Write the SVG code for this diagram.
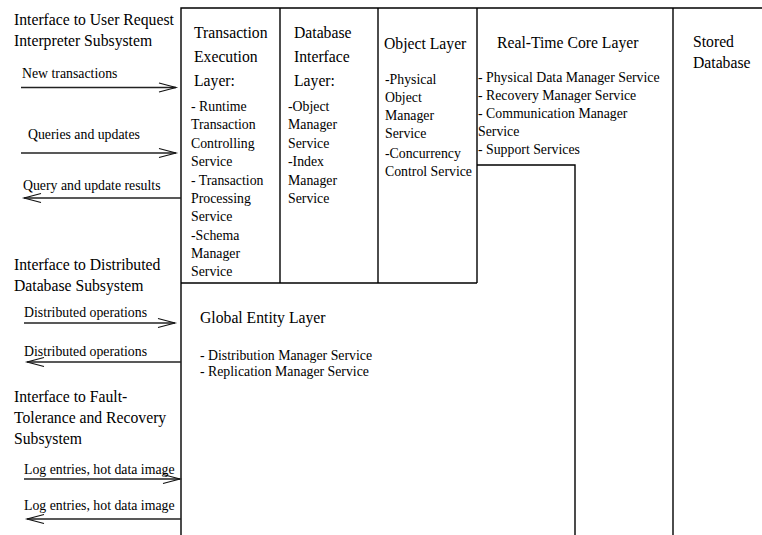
<svg xmlns="http://www.w3.org/2000/svg" width="762" height="535" viewBox="0 0 762 535">
  <style>
    text { font-family: "Liberation Serif", "Times New Roman", serif; fill: #000; }
    .h { font-size: 15.7px; }
    .s { font-size: 13.8px; }
    .frame { fill: none; stroke: #000; stroke-width: 1.4; }
    .arrow { fill: none; stroke: #222; stroke-width: 1.3; }
    .head { fill: none; stroke: #111; stroke-width: 1.1; }
  </style>
  <rect width="762" height="535" fill="#fff"/>

  <!-- Layer frame lines -->
  <g id="frame" class="frame">
    <polyline points="181,535 181,8 762,8"/>
    <line x1="280" y1="8" x2="280" y2="283"/>
    <line x1="378" y1="8" x2="378" y2="283"/>
    <line x1="477" y1="8" x2="477" y2="283"/>
    <line x1="181" y1="283" x2="477" y2="283"/>
    <polyline points="477,165 575,165 575,535"/>
    <line x1="673" y1="8" x2="673" y2="535"/>
  </g>

  <g id="transaction-execution-layer">
    <text class="h" x="194" y="38">Transaction</text>
    <text class="h" x="194" y="62">Execution</text>
    <text class="h" x="194" y="86">Layer:</text>
    <text class="s" x="191" y="111">- Runtime</text>
    <text class="s" x="191" y="129">Transaction</text>
    <text class="s" x="191" y="148">Controlling</text>
    <text class="s" x="191" y="166">Service</text>
    <text class="s" x="191" y="185">- Transaction</text>
    <text class="s" x="191" y="203">Processing</text>
    <text class="s" x="191" y="221">Service</text>
    <text class="s" x="191" y="240">-Schema</text>
    <text class="s" x="191" y="258">Manager</text>
    <text class="s" x="191" y="276">Service</text>
  </g>

  <g id="database-interface-layer">
    <text class="h" x="294" y="38">Database</text>
    <text class="h" x="294" y="62">Interface</text>
    <text class="h" x="294" y="86">Layer:</text>
    <text class="s" x="288" y="111">-Object</text>
    <text class="s" x="288" y="129">Manager</text>
    <text class="s" x="288" y="148">Service</text>
    <text class="s" x="288" y="166">-Index</text>
    <text class="s" x="288" y="185">Manager</text>
    <text class="s" x="288" y="203">Service</text>
  </g>

  <g id="object-layer">
    <text class="h" x="384" y="49">Object Layer</text>
    <text class="s" x="385" y="84">-Physical</text>
    <text class="s" x="385" y="102">Object</text>
    <text class="s" x="385" y="120">Manager</text>
    <text class="s" x="385" y="138">Service</text>
    <text class="s" x="385" y="158">-Concurrency</text>
    <text class="s" x="385" y="176">Control Service</text>
  </g>

  <g id="real-time-core-layer">
    <text class="h" x="497" y="48">Real-Time Core Layer</text>
    <text class="s" x="478" y="82">- Physical Data Manager Service</text>
    <text class="s" x="478" y="100">- Recovery Manager Service</text>
    <text class="s" x="478" y="118">- Communication Manager</text>
    <text class="s" x="478" y="136">Service</text>
    <text class="s" x="478" y="154">- Support Services</text>
  </g>

  <g id="stored-database">
    <text class="h" x="693" y="47">Stored</text>
    <text class="h" x="693" y="68">Database</text>
  </g>

  <g id="global-entity-layer">
    <text class="h" x="200" y="323">Global Entity Layer</text>
    <text class="s" x="200" y="360">- Distribution Manager Service</text>
    <text class="s" x="200" y="376">- Replication Manager Service</text>
  </g>

  <g id="interface-user-request">
    <text class="h" x="14" y="25">Interface to User Request</text>
    <text class="h" x="14" y="46">Interpreter Subsystem</text>
  </g>

  <g id="interface-distributed-db">
    <text class="h" x="14" y="270">Interface to Distributed</text>
    <text class="h" x="14" y="291">Database Subsystem</text>
  </g>

  <g id="interface-fault-tolerance">
    <text class="h" x="14" y="402">Interface to Fault-</text>
    <text class="h" x="14" y="423">Tolerance and Recovery</text>
    <text class="h" x="14" y="444">Subsystem</text>
  </g>

  <!-- Flows between interfaces and the layers -->
  <g id="connectors">
    <line class="arrow" x1="21" y1="87.5" x2="176" y2="87.5"/>
    <polyline class="head" points="159,83 176,87.5 159,92"/>
    <text class="s" x="22" y="78">New transactions</text>

    <line class="arrow" x1="21" y1="153" x2="176" y2="153"/>
    <polyline class="head" points="159,148.5 176,153 159,157.5"/>
    <text class="s" x="28" y="139">Queries and updates</text>

    <line class="arrow" x1="24" y1="198" x2="181" y2="198"/>
    <polyline class="head" points="41,193.5 24,198 41,202.5"/>
    <text class="s" x="23" y="190">Query and update results</text>

    <line class="arrow" x1="24" y1="323" x2="175" y2="323"/>
    <polyline class="head" points="158,318.5 175,323 158,327.5"/>
    <text class="s" x="24" y="317">Distributed operations</text>

    <line class="arrow" x1="27" y1="362" x2="181" y2="362"/>
    <polyline class="head" points="44,357.5 27,362 44,366.5"/>
    <text class="s" x="24" y="356">Distributed operations</text>

    <line class="arrow" x1="24" y1="479" x2="180" y2="479"/>
    <polyline class="head" points="163,474.5 180,479 163,483.5"/>
    <text class="s" x="24" y="474">Log entries, hot data image</text>

    <line class="arrow" x1="27" y1="519" x2="181" y2="519"/>
    <polyline class="head" points="44,514.5 27,519 44,523.5"/>
    <text class="s" x="24" y="510">Log entries, hot data image</text>
  </g>
</svg>
